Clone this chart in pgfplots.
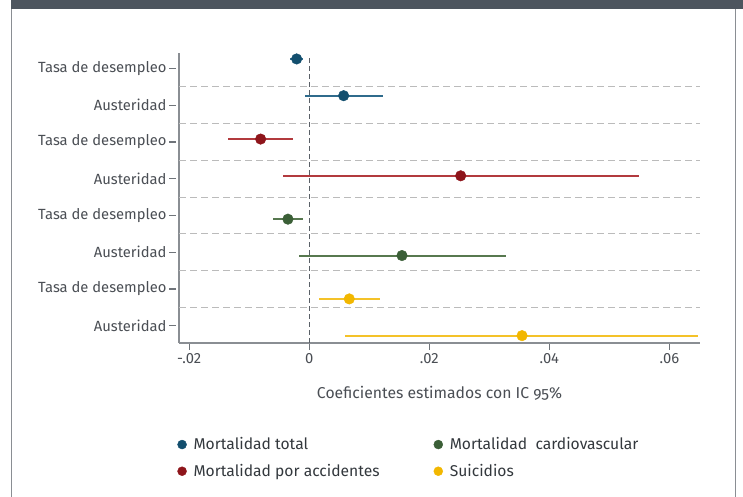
\documentclass[border=0pt]{standalone}
\usepackage{pgfplots}
\pgfplotsset{compat=1.18}
\usepackage{fontspec}
\setmainfont{Fira Sans}

\definecolor{band}{HTML}{4D555E}
\definecolor{frame}{HTML}{8A8E93}
\definecolor{tickc}{HTML}{6F747A}
\definecolor{txt}{HTML}{4A4E54}
\definecolor{legtxt}{HTML}{33383D}
\definecolor{zeroln}{HTML}{5A6067}
\definecolor{sep}{HTML}{BBBBBB}
\definecolor{mtot}{HTML}{134F6E}
\definecolor{mtotci}{HTML}{2F6B8C}
\definecolor{macc}{HTML}{8E151B}
\definecolor{macci}{HTML}{B23A3E}
\definecolor{mcar}{HTML}{3B5F37}
\definecolor{mcarci}{HTML}{57784F}
\definecolor{suic}{HTML}{F2B700}
\definecolor{suicci}{HTML}{F4C229}

\begin{document}
\begin{tikzpicture}
\useasboundingbox (0,0) rectangle (743bp,497bp);
% page frame
\fill[band] (11bp,488.3bp) rectangle (743bp,497bp);
\draw[frame, line width=1.3bp] (11.5bp,0) -- (11.5bp,488.3bp);
\draw[frame, line width=1.3bp] (735.5bp,0) -- (735.5bp,488.3bp);

\begin{axis}[
  at={(179bp,154bp)}, anchor=south west,
  scale only axis, width=521bp, height=290bp,
  xmin=-0.0217, xmax=0.0651,
  ymin=0.53, ymax=8.422,
  axis x line*=bottom, axis y line*=left,
  axis line style={frame, line width=1.2bp},
  xtick={-0.02,0,0.02,0.04,0.06},
  xticklabels={-.02,0,.02,.04,.06},
  scaled x ticks=false,
  ytick={1,...,8},
  yticklabels={Austeridad,Tasa de desempleo,Austeridad,Tasa de desempleo,
               Austeridad,Tasa de desempleo,Austeridad,Tasa de desempleo},
  tick align=outside,
  tickwidth=7bp,
  every tick/.style={draw=tickc, line width=1.2bp},
  ytick style={xshift=-2.5bp},
  ticklabel style={font=\fontsize{14.8}{17}\selectfont, text=txt},
  yticklabel style={xshift=-2bp},
  xlabel={\addfontfeature{Numbers=OldStyle}Coeficientes estimados con IC 95\%},
  xlabel style={at={(axis description cs:0.5,-0.172)}, anchor=center,
                font=\fontsize{15.8}{18}\selectfont, text=txt},
  legend image code/.code={\fill[#1] (0bp,0bp) circle (4.5bp);
                           \path[draw=none, fill=none] (-4.5bp,0bp) rectangle (9.5bp,0.1bp);},
  legend columns=2,
  legend cell align=left,
  legend style={at={(axis description cs:-0.0035,-0.319)}, anchor=north west,
                draw=none, fill=none, inner sep=0pt, row sep=9bp,
                font=\fontsize{15.7}{18}\selectfont, text=legtxt,
                /tikz/every even column/.append style={column sep=52bp}},
  error bars/error mark=none,
  unbounded coords=jump,
  clip=false,
]
% dashed separators between rows
\addplot[forget plot, sep, line width=1bp, dash pattern=on 7bp off 4bp]
  coordinates {(-0.0217,1.5) (0.0651,1.5) (nan,nan)
               (-0.0217,2.5) (0.0651,2.5) (nan,nan)
               (-0.0217,3.5) (0.0651,3.5) (nan,nan)
               (-0.0217,4.5) (0.0651,4.5) (nan,nan)
               (-0.0217,5.5) (0.0651,5.5) (nan,nan)
               (-0.0217,6.5) (0.0651,6.5) (nan,nan)
               (-0.0217,7.5) (0.0651,7.5)};
% zero reference line
\addplot[forget plot, zeroln, line width=1bp, dash pattern=on 5bp off 3bp]
  coordinates {(0,0.53) (0,8.34)};

% Mortalidad total
\addplot[forget plot, only marks, mark=*, mark size=5.3bp, color=mtot,
  error bars/.cd, x dir=both, x explicit,
  error bar style={mtotci, line width=2bp}]
  coordinates {
    (-0.0021,8.26) += (0.0011,0) -= (0.0011,0)
    (0.00573,7.26) += (0.0065,0) -= (0.00645,0)
  };
% Mortalidad por accidentes
\addplot[forget plot, only marks, mark=*, mark size=5.3bp, color=macc,
  error bars/.cd, x dir=both, x explicit,
  error bar style={macci, line width=2bp}]
  coordinates {
    (-0.0081,6.08) += (0.00533,0) -= (0.0054,0)
    (0.02523,5.08) += (0.02967,0) -= (0.02966,0)
  };
% Mortalidad cardiovascular
\addplot[forget plot, only marks, mark=*, mark size=5.3bp, color=mcar,
  error bars/.cd, x dir=both, x explicit,
  error bar style={mcarci, line width=2bp}]
  coordinates {
    (-0.00355,3.90) += (0.00255,0) -= (0.00255,0)
    (0.01545,2.91) += (0.01733,0) -= (0.01712,0)
  };
% Suicidios
\addplot[forget plot, only marks, mark=*, mark size=5.3bp, color=suic,
  error bars/.cd, x dir=both, x explicit,
  error bar style={suicci, line width=2bp}]
  coordinates {
    (0.00667,1.73) += (0.00511,0) -= (0.005,0)
    (0.03545,0.73) += (0.02933,0) -= (0.0295,0)
  };

\addlegendimage{mtot}
\addlegendentry{Mortalidad total}
\addlegendimage{mcar}
\addlegendentry{Mortalidad~~cardiovascular}
\addlegendimage{macc}
\addlegendentry{Mortalidad por accidentes}
\addlegendimage{suic}
\addlegendentry{Suicidios}
\end{axis}
\end{tikzpicture}
\end{document}
